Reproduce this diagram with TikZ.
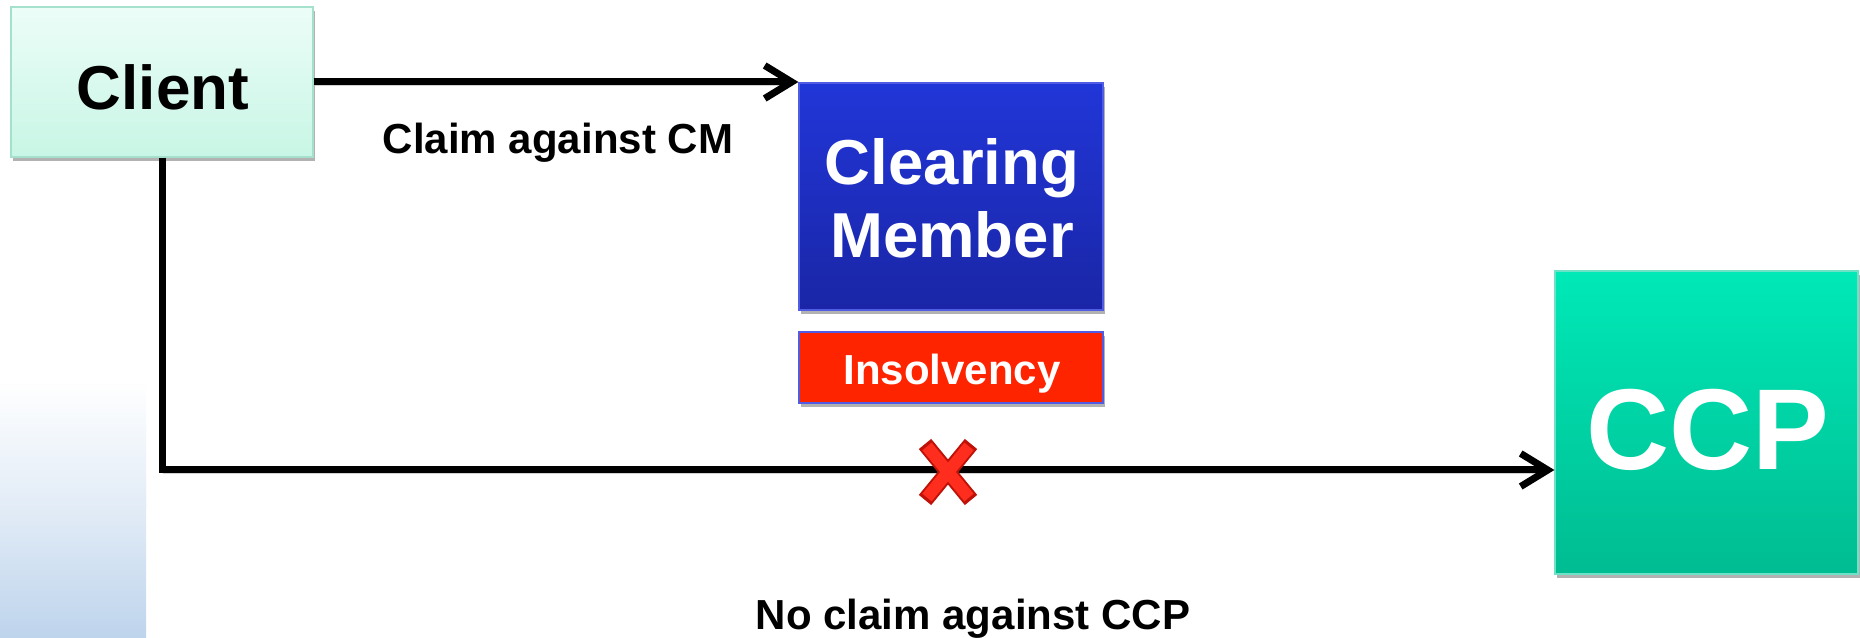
\documentclass[tikz,border=0pt]{standalone}
\usepackage{fontspec}
\setmainfont{Liberation Sans}
\usetikzlibrary{arrows.meta,shadows}
\definecolor{clientTop}{RGB}{236,253,248}
\definecolor{clientBot}{RGB}{200,246,229}
\definecolor{clientLine}{RGB}{165,224,204}
\definecolor{cmTop}{RGB}{33,54,216}
\definecolor{cmBot}{RGB}{26,38,166}
\definecolor{cmLine}{RGB}{80,92,228}
\definecolor{insFill}{RGB}{255,36,0}
\definecolor{ccpTop}{RGB}{0,233,183}
\definecolor{ccpBot}{RGB}{0,188,146}
\definecolor{ccpLine}{RGB}{110,226,198}
\definecolor{barBlue}{RGB}{190,212,236}
\definecolor{xDark}{RGB}{190,18,8}
\definecolor{xLight}{RGB}{255,45,30}
\begin{document}
\begin{tikzpicture}[x=1pt,y=1pt,
  boxshadow/.style={drop shadow={shadow xshift=1.5pt,shadow yshift=-4pt,opacity=0.3,fill=black}},
  box/.style={rectangle,inner sep=0pt,line width=1.2pt,boxshadow},
  conn/.style={line width=7pt,-{Straight Barb[length=27pt,width=33pt]},
    preaction={draw=black,opacity=0.18,transform canvas={xshift=1pt,yshift=-3pt}}},
  lbl/.style={anchor=base,inner sep=0pt,font=\fontsize{42}{42}\selectfont\bfseries},
  whitetxt/.style={anchor=base,inner sep=0pt,text=white}]
\useasboundingbox (0,0) rectangle (1860,637);
% left gradient bar
\fill[top color=white,bottom color=barBlue,middle color=barBlue!45] (0,0) rectangle (146,257);
\fill[top color=white,bottom color=barBlue!45,draw=none] (0,128.5) rectangle (146,257);
% boxes
\node[box,top color=clientTop,bottom color=clientBot,draw=clientLine,
      minimum width=302pt,minimum height=150pt] (Client) at (162,555) {};
\node[box,top color=cmTop,bottom color=cmBot,draw=cmLine,
      minimum width=304pt,minimum height=227pt] (CM) at (951,440.5) {};
\node[box,fill=insFill,draw=cmLine,
      minimum width=304pt,minimum height=71pt] (Ins) at (951,269.5) {};
\node[box,top color=ccpTop,bottom color=ccpBot,draw=ccpLine,
      minimum width=303pt,minimum height=303pt] (CCP) at (1706.5,214.5) {};
% box texts
\node[anchor=base,inner sep=0pt,font=\fontsize{62}{62}\selectfont\bfseries] (ClientT) at (163,527) {Client};
\node[whitetxt,font=\fontsize{63.5}{63.5}\selectfont\bfseries] (CMT1) at (952,452) {Clearing};
\node[whitetxt,font=\fontsize{63.5}{63.5}\selectfont\bfseries] (CMT2) at (952,379) {Member};
\node[whitetxt,font=\fontsize{42}{42}\selectfont\bfseries] (InsT) at (952,252) {Insolvency};
\node[whitetxt,font=\fontsize{115}{115}\selectfont\bfseries] (CCPT) at (1708,167) {CCP};
% connectors
\draw[conn] (Client.east) -- (Client.east -| CM.west);
\coordinate (turn) at (162,167);
\draw[conn] (Client.south) -- (turn) -- (turn -| CCP.west);
% red cross
\coordinate (xm) at (948,165);
\draw[xDark,line width=16pt] ([shift={(-23,28)}]xm) -- ([shift={(23,-28)}]xm);
\draw[xDark,line width=16pt] ([shift={(23,28)}]xm) -- ([shift={(-23,-28)}]xm);
\draw[xLight,line width=12pt] ([shift={(-21,25.5)}]xm) -- ([shift={(21,-25.5)}]xm);
\draw[xLight,line width=12pt] ([shift={(21,25.5)}]xm) -- ([shift={(-21,-25.5)}]xm);
% labels
\node[lbl] (L1) at (558,483) {Claim against CM};
\node[lbl] (L2) at (973,8) {No claim against CCP};
\end{tikzpicture}
\end{document}
